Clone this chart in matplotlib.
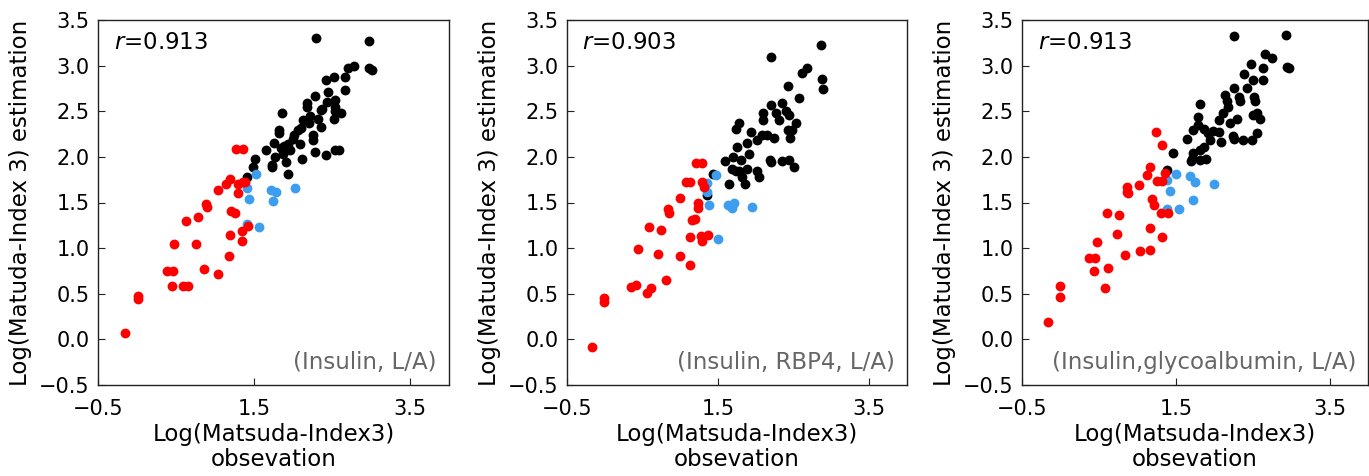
import matplotlib.pyplot as plt

# ---- panel 1: (Insulin, L/A) ----
p1_red_x = [-0.15, 0.01, 0.01, 0.38, 0.46, 0.45, 0.59, 0.65, 0.48, 0.63, 0.78, 0.75, 0.86, 1.04,
            0.89, 0.90, 1.04, 1.14, 1.19, 1.27, 1.36, 1.29, 1.29, 1.36, 1.39, 1.21, 1.25, 1.19,
            1.18, 1.34, 1.42, 1.35]
p1_red_y = [0.07, 0.47, 0.44, 0.75, 0.75, 0.59, 0.59, 0.59, 1.05, 1.30, 1.34, 1.05, 0.77, 0.72,
            1.48, 1.45, 1.64, 1.70, 1.76, 2.09, 2.09, 1.70, 1.60, 1.73, 1.73, 1.41, 1.39, 1.14,
            0.91, 1.19, 1.24, 1.08]
p1_blue_x = [1.41, 1.44, 1.53, 1.41, 1.56, 1.72, 1.78, 1.74, 2.03]
p1_blue_y = [1.66, 1.54, 1.81, 1.26, 1.23, 1.64, 1.61, 1.52, 1.66]
p1_black_x = [1.41, 1.49, 1.51, 1.66, 1.73, 1.73, 1.76, 1.77, 1.82, 1.82, 1.86, 1.87, 1.91,
              1.88, 1.94, 1.96, 1.93, 2.01, 2.09, 2.12, 2.10, 2.13, 2.18, 2.18, 2.20, 2.25,
              2.26, 2.28, 2.28, 2.32, 2.36, 2.37, 2.36, 2.42, 2.42, 2.52, 2.45, 2.54, 2.54,
              2.54, 2.53, 2.54, 2.59, 2.62, 2.67, 2.67, 2.70, 2.78, 2.30, 2.97, 2.98, 3.01,
              1.84, 2.00, 2.07, 2.22, 2.44]
p1_black_y = [1.78, 1.89, 1.98, 2.08, 1.91, 1.89, 2.15, 2.00, 2.29, 2.26, 2.48, 2.03, 1.94,
              2.12, 2.14, 2.07, 1.81, 2.24, 2.14, 1.98, 2.32, 2.40, 2.59, 2.55, 2.37, 2.24,
              2.18, 2.67, 2.05, 2.42, 2.51, 2.53, 2.33, 2.02, 2.84, 2.87, 2.71, 2.62, 2.55,
              2.50, 2.41, 2.07, 2.07, 2.48, 2.87, 2.73, 2.97, 3.00, 3.30, 3.27, 2.97, 2.95,
              2.10, 2.20, 2.30, 2.45, 2.60]

# ---- panel 2: (Insulin, RBP4, L/A) ----
p2_red_x = [-0.17, -0.01, -0.01, 0.35, 0.41, 0.56, 0.61, 0.44, 0.71, 0.81, 0.99, 1.13, 0.59,
            0.74, 0.84, 0.85, 0.99, 1.08, 1.13, 1.21, 1.29, 1.29, 1.31, 1.23, 1.23, 1.15,
            1.20, 1.13, 1.27, 1.29, 1.36]
p2_red_y = [-0.08, 0.45, 0.41, 0.57, 0.60, 0.51, 0.56, 0.99, 0.94, 0.65, 0.91, 0.81, 1.23,
            1.20, 1.43, 1.38, 1.55, 1.72, 1.72, 1.93, 1.93, 1.73, 1.67, 1.50, 1.44, 1.31,
            1.32, 1.12, 1.13, 1.08, 1.14]
p2_blue_x = [1.35, 1.35, 1.47, 1.38, 1.63, 1.68, 1.71, 1.95, 1.50]
p2_blue_y = [1.71, 1.62, 1.80, 1.47, 1.47, 1.44, 1.49, 1.45, 1.10]
p2_black_x = [1.35, 1.43, 1.59, 1.65, 1.68, 1.74, 1.78, 1.82, 1.70, 1.80, 1.91, 1.75, 1.85,
              1.88, 1.94, 1.74, 1.78, 1.88, 2.01, 2.04, 2.02, 2.08, 2.15, 2.24, 2.09, 2.09,
              2.20, 2.30, 2.34, 2.19, 2.20, 2.27, 2.40, 2.44, 2.34, 2.44, 2.50, 2.45, 2.42,
              2.48, 2.53, 2.42, 2.57, 2.61, 2.68, 2.20, 2.86, 2.87, 2.89]
p2_black_y = [1.58, 1.81, 1.96, 1.70, 1.87, 1.84, 1.85, 1.78, 2.00, 1.97, 2.03, 2.11, 1.70,
              2.15, 2.27, 2.31, 2.37, 1.87, 1.84, 1.78, 2.18, 2.24, 2.24, 2.21, 2.48, 2.40,
              2.57, 2.40, 2.59, 1.97, 1.94, 2.48, 2.50, 2.46, 1.95, 1.97, 1.89, 2.21, 2.29,
              2.30, 2.37, 2.78, 2.65, 2.92, 2.97, 3.10, 3.23, 2.85, 2.74]

# ---- panel 3: (Insulin, glycoalbumin, L/A) ----
p3_red_x = [-0.16, 0.00, 0.00, 0.37, 0.45, 0.43, 0.47, 0.58, 0.62, 0.61, 0.76, 0.73, 0.84,
            0.87, 0.87, 0.88, 1.02, 1.03, 1.12, 1.17, 1.17, 1.17, 1.19, 1.22, 1.24, 1.32,
            1.25, 1.32, 1.36, 1.32, 1.31, 1.40]
p3_red_y = [0.19, 0.58, 0.46, 0.89, 0.89, 0.75, 1.07, 0.56, 0.78, 1.38, 1.36, 1.16, 0.93,
            1.67, 1.62, 1.60, 1.69, 0.97, 1.80, 1.89, 0.98, 1.22, 1.54, 1.47, 2.27, 2.13,
            1.74, 1.74, 1.82, 1.12, 1.39, 1.39]
p3_blue_x = [1.39, 1.50, 1.42, 1.39, 1.54, 1.69, 1.75, 1.72, 2.00]
p3_blue_y = [1.75, 1.81, 1.63, 1.43, 1.43, 1.79, 1.72, 1.53, 1.70]
p3_black_x = [1.38, 1.47, 1.64, 1.70, 1.71, 1.73, 1.82, 1.87, 1.82, 1.89, 1.72, 1.79, 1.79,
              1.82, 1.87, 1.92, 1.98, 1.94, 2.06, 2.09, 2.06, 2.11, 2.14, 2.16, 2.18, 2.21,
              2.30, 2.25, 2.26, 2.26, 2.32, 2.34, 2.38, 2.49, 2.55, 2.42, 2.39, 2.48, 2.51,
              2.52, 2.53, 2.55, 2.51, 2.60, 2.63, 2.63, 2.66, 2.75, 2.26, 2.93, 2.95, 2.97]
p3_black_y = [1.86, 2.04, 2.20, 1.95, 1.98, 2.04, 2.08, 2.11, 1.97, 1.98, 2.29, 2.35, 2.44,
              2.58, 2.31, 2.26, 2.28, 2.19, 2.27, 2.16, 2.40, 2.48, 2.68, 2.61, 2.55, 2.37,
              2.42, 2.23, 2.20, 2.76, 2.66, 2.61, 2.18, 2.19, 2.26, 2.76, 2.91, 3.02, 2.84,
              2.66, 2.61, 2.48, 2.46, 2.42, 2.97, 2.84, 3.13, 3.08, 3.33, 3.34, 2.99, 2.97]

r_values = ["0.913", "0.903", "0.913"]
model_labels = ["(Insulin, L/A)", "(Insulin, RBP4, L/A)", "(Insulin,glycoalbumin, L/A)"]

panels = [
    (p1_red_x, p1_red_y, p1_blue_x, p1_blue_y, p1_black_x, p1_black_y),
    (p2_red_x, p2_red_y, p2_blue_x, p2_blue_y, p2_black_x, p2_black_y),
    (p3_red_x, p3_red_y, p3_blue_x, p3_blue_y, p3_black_x, p3_black_y),
]

plt.rcParams['font.family'] = ['DejaVu Sans']
fig = plt.figure(figsize=(13.69, 4.76), dpi=100)

W, H = 1369, 476
lefts = [98, 567, 1022]
rights = [449, 907, 1368]
top, bottom = 20, 385

for i, (rx, ry, bx, by, kx, ky) in enumerate(panels):
    ax = fig.add_axes([lefts[i] / W, 1 - bottom / H, (rights[i] - lefts[i]) / W, (bottom - top) / H])
    ax.scatter(kx, ky, s=50, color='black', zorder=3, linewidths=0)
    ax.scatter(bx, by, s=50, color='#3d9ef0', zorder=4, linewidths=0)
    ax.scatter(rx, ry, s=50, color='#ff0000', zorder=5, linewidths=0)
    ax.set_xlim(-0.5, 4.0)
    ax.set_ylim(-0.5, 3.5)
    ax.set_xticks([-0.5, 1.5, 3.5])
    ax.set_xticklabels(["\u22120.5", "1.5", "3.5"])
    ax.set_yticks([-0.5, 0.0, 0.5, 1.0, 1.5, 2.0, 2.5, 3.0, 3.5])
    ax.set_yticklabels(["\u22120.5", "0.0", "0.5", "1.0", "1.5", "2.0", "2.5", "3.0", "3.5"])
    ax.tick_params(direction='in', length=5, labelsize=15, color='#222222')
    ax.tick_params(axis='x', pad=10)
    ax.tick_params(axis='y', pad=6)
    for sp in ax.spines.values():
        sp.set_linewidth(1.0)
        sp.set_color('#222222')
    ax.set_xlabel("Log(Matsuda-Index3)\nobsevation", fontsize=16.5, labelpad=3, linespacing=1.1)
    ax.set_ylabel("Log(Matuda-Index 3) estimation", fontsize=16.5, labelpad=5)
    ax.text(0.045, 0.97, r"$r$=" + r_values[i], transform=ax.transAxes, fontsize=16.5,
            va='top', ha='left')
    ax.text(0.965, 0.03, model_labels[i], transform=ax.transAxes, fontsize=16.5,
            va='bottom', ha='right', color='#666666')

fig.savefig("out.png", dpi=100)
